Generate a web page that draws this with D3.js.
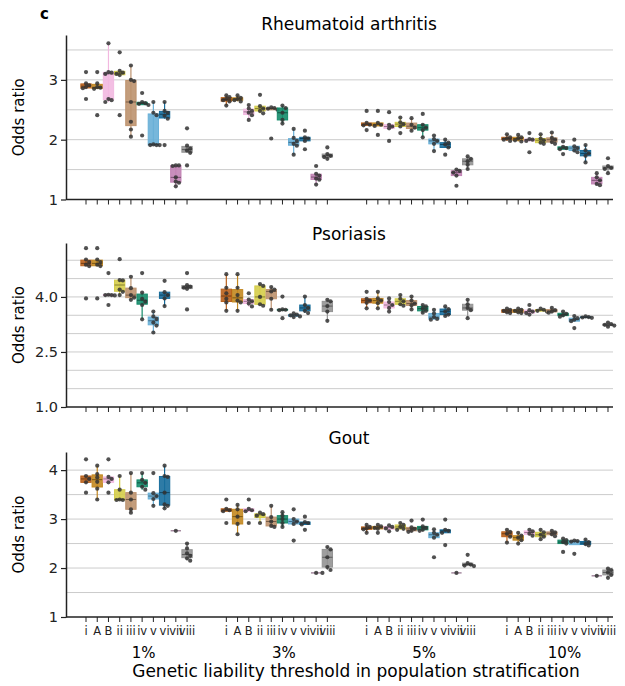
<!DOCTYPE html>
<html>
<head>
<meta charset="utf-8">
<script src="https://cdn.jsdelivr.net/npm/d3@7"></script>
<style>
body { margin: 0; background: #fff; }
svg { display: block; font-family: 'DejaVu Sans', sans-serif; }
</style>
</head>
<body>
<svg id="chart" width="625" height="686"></svg>
<script>
//
// Data
//

var categories = ['i', 'A', 'B', 'ii', 'iii', 'iv', 'v', 'vi', 'vii', 'viii']
var thresholds = ['1%', '3%', '5%', '10%']
var palette = ['#d55e00', '#de8f05', '#fbafe4', '#ece133', '#ca9161', '#029e73', '#56b4e9', '#0173b2', '#cc78bc', '#949494']

// odds ratios per category, one array per threshold
var ra1 = [
  [3.13, 2.94, 2.91, 2.88, 2.86, 2.68],
  [3.13, 2.94, 2.88, 2.87, 2.85, 2.41],
  [3.61, 3.13, 3.12, 3.10, 2.68, 2.66, 2.63],
  [3.46, 3.15, 3.12, 3.10, 3.08, 2.41],
  [3.24, 3.00, 2.98, 2.63, 2.30, 2.17, 2.05],
  [2.78, 2.63, 2.61, 2.60, 2.58, 2.07],
  [2.63, 2.45, 2.41, 1.92, 1.91, 1.91, 1.91],
  [2.63, 2.48, 2.45, 2.40, 2.35, 1.91],
  [1.57, 1.57, 1.56, 1.37, 1.30, 1.28, 1.22],
  [2.19, 1.90, 1.85, 1.82, 1.78, 1.57]
]
var ra3 = [
  [2.74, 2.71, 2.68, 2.66, 2.64, 2.57],
  [2.74, 2.70, 2.68, 2.66, 2.64],
  [2.58, 2.52, 2.48, 2.45, 2.41, 2.33],
  [2.75, 2.56, 2.52, 2.48, 2.44],
  [2.54, 2.53, 2.52, 2.50, 2.02],
  [2.57, 2.53, 2.45, 2.33, 2.27],
  [2.18, 2.03, 1.98, 1.93, 1.90, 1.75],
  [2.15, 2.04, 2.02, 1.98, 1.84],
  [1.56, 1.43, 1.40, 1.35, 1.33, 1.25],
  [1.87, 1.76, 1.73, 1.71, 1.68]
]
var ra5 = [
  [2.48, 2.28, 2.25, 2.24, 2.16],
  [2.48, 2.28, 2.25, 2.23, 2.08],
  [2.46, 2.25, 2.22, 2.19, 1.98],
  [2.37, 2.29, 2.26, 2.22, 2.11],
  [2.36, 2.25, 2.20, 2.15],
  [2.43, 2.25, 2.20, 2.16, 2.04],
  [2.07, 2.01, 1.98, 1.93, 1.81],
  [2.00, 1.95, 1.92, 1.87, 1.75],
  [1.50, 1.48, 1.45, 1.40, 1.23],
  [1.72, 1.68, 1.64, 1.58, 1.51]
]
var ra10 = [
  [2.09, 2.04, 2.02, 2.00, 1.98],
  [2.08, 2.04, 2.02, 1.99, 1.97],
  [2.11, 2.01, 2.00, 1.98, 1.79],
  [2.09, 2.02, 1.99, 1.95, 1.93],
  [2.12, 2.03, 2.00, 1.96, 1.93],
  [1.97, 1.88, 1.86, 1.84, 1.76],
  [2.00, 1.89, 1.86, 1.82, 1.79],
  [1.91, 1.82, 1.77, 1.73, 1.62],
  [1.44, 1.37, 1.32, 1.26, 1.24],
  [1.69, 1.56, 1.53, 1.51, 1.44]
]

var pso1 = [
  [5.33, 5.02, 4.95, 4.88, 4.84, 3.96],
  [5.33, 5.02, 4.95, 4.88, 4.84, 3.96],
  [4.65, 4.06, 4.05, 4.05, 4.04, 3.78],
  [5.03, 4.46, 4.45, 4.20, 4.14, 4.05],
  [4.55, 4.24, 4.05, 3.98, 3.92],
  [4.65, 4.12, 3.95, 3.87, 3.78, 3.39],
  [3.60, 3.47, 3.40, 3.30, 3.22, 3.03],
  [4.44, 4.13, 4.05, 3.96, 3.75],
  [],
  [4.65, 4.32, 4.28, 4.25, 4.22, 3.66]
]
var pso3 = [
  [4.62, 4.25, 4.10, 3.95, 3.85, 3.62],
  [4.62, 4.25, 4.05, 3.90, 3.85, 3.62],
  [4.10, 3.93, 3.88, 3.82, 3.74],
  [4.35, 4.30, 4.00, 3.80, 3.76],
  [4.27, 4.20, 4.15, 3.95, 3.65],
  [4.01, 3.66, 3.65, 3.64, 3.42],
  [3.55, 3.52, 3.50, 3.47, 3.45],
  [4.01, 3.78, 3.70, 3.62, 3.56],
  [],
  [3.92, 3.88, 3.75, 3.60, 3.35]
]
var pso5 = [
  [4.14, 3.95, 3.90, 3.84, 3.69],
  [4.14, 3.96, 3.90, 3.83, 3.69],
  [3.96, 3.86, 3.78, 3.70, 3.60],
  [4.05, 3.95, 3.88, 3.80, 3.76],
  [4.01, 3.90, 3.82, 3.77, 3.66],
  [3.78, 3.74, 3.68, 3.62, 3.57],
  [3.65, 3.55, 3.45, 3.40, 3.38],
  [3.74, 3.67, 3.60, 3.52, 3.48],
  [],
  [3.92, 3.80, 3.70, 3.64, 3.42]
]
var pso10 = [
  [3.68, 3.65, 3.62, 3.58, 3.56],
  [3.68, 3.65, 3.62, 3.58, 3.56],
  [3.78, 3.64, 3.60, 3.56, 3.52],
  [3.68, 3.65, 3.62, 3.60],
  [3.70, 3.64, 3.60, 3.57],
  [3.60, 3.54, 3.50, 3.46],
  [3.48, 3.42, 3.38, 3.34, 3.15],
  [3.47, 3.45, 3.44, 3.43],
  [],
  [3.30, 3.26, 3.24, 3.22, 3.19]
]

var gout1 = [
  [4.22, 3.88, 3.82, 3.75, 3.54],
  [4.09, 3.92, 3.85, 3.76, 3.62, 3.40],
  [4.22, 3.86, 3.82, 3.75, 3.54],
  [3.88, 3.60, 3.40, 3.39, 3.39],
  [3.94, 3.54, 3.40, 3.20, 3.13],
  [3.94, 3.80, 3.74, 3.66, 3.60],
  [3.94, 3.53, 3.47, 3.41, 3.27],
  [4.09, 3.88, 3.86, 3.54, 3.30, 3.27, 3.22],
  [2.76],
  [2.50, 2.40, 2.30, 2.25, 2.20, 2.15]
]
var gout3 = [
  [3.40, 3.21, 3.18, 3.16, 2.92],
  [3.29, 3.20, 3.05, 2.90, 2.69],
  [3.40, 3.21, 3.18, 3.16, 2.92],
  [3.13, 3.10, 3.07, 2.92],
  [3.27, 3.04, 2.95, 2.86, 2.84],
  [3.14, 3.07, 3.00, 2.92, 2.84],
  [3.20, 3.00, 2.95, 2.90, 2.56],
  [3.05, 2.94, 2.92, 2.89, 2.78],
  [1.90, 1.90],
  [2.43, 2.38, 2.22, 2.02, 1.96]
]
var gout5 = [
  [2.88, 2.84, 2.81, 2.79, 2.72],
  [2.88, 2.85, 2.82, 2.80, 2.72],
  [2.87, 2.84, 2.81, 2.75],
  [2.92, 2.88, 2.84, 2.80, 2.78],
  [2.97, 2.83, 2.80, 2.76, 2.74],
  [2.99, 2.85, 2.82, 2.78, 2.76],
  [2.79, 2.72, 2.68, 2.62, 2.22],
  [2.99, 2.78, 2.76, 2.72, 2.47],
  [1.90],
  [2.27, 2.10, 2.07, 2.05, 2.04]
]
var gout10 = [
  [2.78, 2.74, 2.70, 2.64, 2.52],
  [2.72, 2.66, 2.62, 2.57, 2.50],
  [2.78, 2.75, 2.70, 2.66],
  [2.78, 2.73, 2.68, 2.64, 2.59],
  [2.76, 2.73, 2.69, 2.65],
  [2.60, 2.57, 2.53, 2.50, 2.33],
  [2.56, 2.55, 2.54, 2.29],
  [2.58, 2.53, 2.49, 2.46],
  [1.84],
  [1.99, 1.96, 1.91, 1.86, 1.80]
]

//
// Layout
//

var left = 66, right = 613
var panels = [
  { title: 'Rheumatoid arthritis', groups: [ra1, ra3, ra5, ra10], domain: [1, 3.75], top: 35, bottom: 199.5, titleY: 30, ticks: [1, 2, 3], fmt: 'd', grid: d3.range(1.5, 3.51, 0.5) },
  { title: 'Psoriasis', groups: [pso1, pso3, pso5, pso10], domain: [1, 5.47], top: 243, bottom: 407, titleY: 240, ticks: [1, 2.5, 4], fmt: '.1f', grid: d3.range(1.5, 5.01, 0.5) },
  { title: 'Gout', groups: [gout1, gout3, gout5, gout10], domain: [1, 4.37], top: 452, bottom: 617, titleY: 444, ticks: [1, 2, 3, 4], fmt: 'd', grid: d3.range(1.5, 4.01, 0.5) }
]

var svg = d3.select('#chart')

var xGroup = d3.scaleBand().domain(thresholds).range([80.4, 613.6]).paddingInner(0.2)
var xCat = d3.scaleBand().domain(categories).range([0, xGroup.bandwidth()])
var boxW = xCat.bandwidth() * 0.92
var r = 2.1

function desat(c) {
  var h = d3.hsl(c)
  h.s *= 0.75
  return h.formatHex()
}

// tiny beeswarm so equal values spread sideways
function swarm(vals, y, cx) {
  var placed = []
  vals.slice().sort(d3.descending).forEach(function(v) {
    var py = y(v)
    for (var k = 0; k < 15; k++) {
      var off = k === 0 ? 0 : (k % 2 ? 1 : -1) * Math.ceil(k / 2) * r * 1.5
      var ok = placed.every(function(p) {
        return Math.hypot(p.x - (cx + off), p.y - py) >= r * 1.5
      })
      if (ok) { placed.push({ x: cx + off, y: py }); break }
    }
  })
  return placed
}

function stats(vals) {
  var s = vals.slice().sort(d3.ascending)
  var q1 = d3.quantile(s, 0.25), med = d3.quantile(s, 0.5), q3 = d3.quantile(s, 0.75)
  var iqr = q3 - q1
  var lo = d3.min(s.filter(function(v) { return v >= q1 - 1.5 * iqr }))
  var hi = d3.max(s.filter(function(v) { return v <= q3 + 1.5 * iqr }))
  return { q1: q1, med: med, q3: q3, lo: lo, hi: hi }
}

svg.append('text')
  .attr('x', 40).attr('y', 19)
  .attr('font-size', 15).attr('font-weight', 'bold')
  .text('c')

panels.forEach(function(p, pi) {
  var y = d3.scaleLinear().domain(p.domain).range([p.bottom, p.top])
  var g = svg.append('g')

  // grid
  g.selectAll('line.grid').data(p.grid).enter().append('line')
    .attr('x1', left).attr('x2', right)
    .attr('y1', function(d) { return y(d) }).attr('y2', function(d) { return y(d) })
    .attr('stroke', '#cccccc').attr('stroke-width', 1)

  // title
  g.append('text')
    .attr('x', 349).attr('y', p.titleY)
    .attr('text-anchor', 'middle').attr('font-size', 17)
    .text(p.title)

  // boxes
  p.groups.forEach(function(groupData, gi) {
    var gx = xGroup(thresholds[gi])
    groupData.forEach(function(vals, ci) {
      if (!vals.length) return
      var cx = gx + xCat(categories[ci]) + xCat.bandwidth() / 2
      var col = desat(palette[ci])
      var s = stats(vals)
      g.append('line')
        .attr('x1', cx).attr('x2', cx)
        .attr('y1', y(s.hi)).attr('y2', y(s.lo))
        .attr('stroke', col).attr('stroke-width', 1.2)
      g.append('rect')
        .attr('x', cx - boxW / 2).attr('width', boxW)
        .attr('y', y(s.q3)).attr('height', Math.max(0, y(s.q1) - y(s.q3)))
        .attr('fill', col).attr('fill-opacity', 0.9)
        .attr('stroke', col).attr('stroke-width', 1)
      g.append('line')
        .attr('x1', cx - boxW / 2).attr('x2', cx + boxW / 2)
        .attr('y1', y(s.med)).attr('y2', y(s.med))
        .attr('stroke', d3.color(col).darker(1.3)).attr('stroke-width', 1)
      g.selectAll(null).data(swarm(vals, y, cx)).enter().append('circle')
        .attr('cx', function(d) { return d.x }).attr('cy', function(d) { return d.y })
        .attr('r', r).attr('fill', '#333').attr('fill-opacity', 0.85)
    })

    // category ticks
    var ax = g.append('g')
      .attr('transform', 'translate(' + gx + ',' + p.bottom + ')')
      .call(d3.axisBottom(xCat).tickSize(5).tickFormat(pi === 2 ? null : ''))
    ax.select('.domain').remove()
    ax.selectAll('line').attr('stroke', '#222')
    ax.selectAll('text').attr('font-size', 11.5).attr('font-family', 'DejaVu Sans').attr('fill', '#222').attr('dy', '0.9em')
  })

  // y axis
  var ya = g.append('g')
    .attr('transform', 'translate(' + left + ',0)')
    .call(d3.axisLeft(y).tickValues(p.ticks).tickSize(5).tickSizeOuter(0).tickFormat(d3.format(p.fmt)))
  ya.select('.domain').attr('stroke', '#222').attr('stroke-width', 1.5)
  ya.selectAll('line').attr('stroke', '#222').attr('stroke-width', 1.2)
  ya.selectAll('text').attr('font-size', 14.5).attr('font-family', 'DejaVu Sans').attr('fill', '#222')

  // bottom spine
  g.append('line')
    .attr('x1', left).attr('x2', right).attr('y1', p.bottom).attr('y2', p.bottom)
    .attr('stroke', '#222').attr('stroke-width', 1.5)

  g.append('text')
    .attr('transform', 'translate(24,' + (p.top + p.bottom) / 2 + ') rotate(-90)')
    .attr('text-anchor', 'middle').attr('font-size', 15)
    .text('Odds ratio')
})

// group labels and axis title
svg.selectAll('text.grp').data(thresholds).enter().append('text')
  .attr('x', function(d) { return xGroup(d) + xGroup.bandwidth() / 2 + 7 })
  .attr('y', 658)
  .attr('text-anchor', 'middle').attr('font-size', 15)
  .text(function(d) { return d })

svg.append('text')
  .attr('x', 356).attr('y', 677)
  .attr('text-anchor', 'middle').attr('font-size', 17)
  .text('Genetic liability threshold in population stratification')
</script>
</body>
</html>
